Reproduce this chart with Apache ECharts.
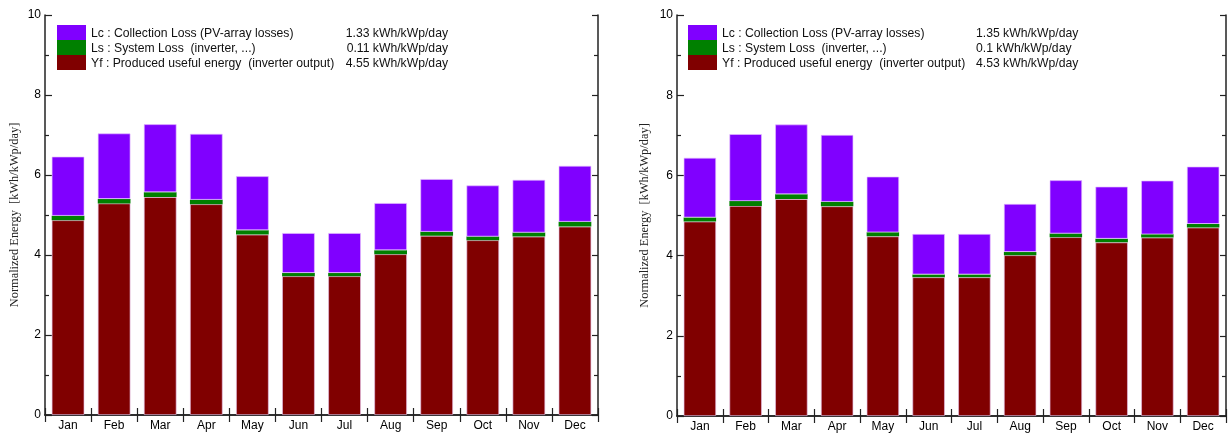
<!DOCTYPE html>
<html>
<head>
<meta charset="utf-8">
<script src="https://cdn.jsdelivr.net/npm/echarts@6/dist/echarts.min.js"></script>
<style>
html,body{margin:0;padding:0;background:#fff;}
#c{width:1229px;height:434px;}
</style>
</head>
<body>
<div id="c"></div>
<script>
// ---- data ----
var months = ['Jan','Feb','Mar','Apr','May','Jun','Jul','Aug','Sep','Oct','Nov','Dec'];
var seriesNames = [
  'Lc : Collection Loss (PV-array losses)',
  'Ls : System Loss  (inverter, ...)',
  'Yf : Produced useful energy  (inverter output)'
];
// left chart
var yfA = [4.87, 5.29, 5.45, 5.27, 4.51, 3.47, 3.47, 4.02, 4.48, 4.37, 4.46, 4.71];
var lsA = [0.11, 0.11, 0.12, 0.11, 0.11, 0.08, 0.08, 0.10, 0.10, 0.09, 0.10, 0.12];
var lcA = [1.48, 1.64, 1.70, 1.65, 1.35, 1.00, 1.00, 1.18, 1.32, 1.28, 1.32, 1.40];
var summaryA = ['1.33 kWh/kWp/day', '0.11 kWh/kWp/day', '4.55 kWh/kWp/day'];
// right chart
var yfB = [4.85, 5.24, 5.41, 5.23, 4.48, 3.46, 3.46, 4.01, 4.46, 4.33, 4.45, 4.70];
var lsB = [0.10, 0.12, 0.12, 0.11, 0.10, 0.07, 0.07, 0.08, 0.09, 0.09, 0.08, 0.09];
var lcB = [1.49, 1.67, 1.74, 1.67, 1.39, 1.01, 1.01, 1.20, 1.33, 1.30, 1.34, 1.43];
var summaryB = ['1.35 kWh/kWp/day', '0.1 kWh/kWp/day', '4.53 kWh/kWp/day'];
var yTitle = 'Normalized Energy  [kWh/kWp/day]';

var colors = {lc: '#8000ff', ls: '#008000', yf: '#800000'};
var font = 'Liberation Sans, Arial, Helvetica, sans-serif';
var axisLineStyle = {color: '#222', width: 1.5};

function xAxes(gi) {
  return [
    {type: 'category', gridIndex: gi, data: months, position: 'bottom',
     axisLine: {lineStyle: axisLineStyle},
     axisTick: {show: true, inside: true, length: 7, lineStyle: {color: '#222', width: 1.2}},
     axisLabel: {color: '#000', fontFamily: font, fontSize: 12, margin: 5},
     splitLine: {show: false}},
    {type: 'category', gridIndex: gi, data: months, position: 'top',
     axisLine: {lineStyle: axisLineStyle},
     axisTick: {show: true, inside: true, length: 7, lineStyle: {color: '#222', width: 1.2}},
     axisLabel: {show: false},
     splitLine: {show: false}}
  ];
}
function yAxes(gi, gap) {
  return [
    {type: 'value', gridIndex: gi, min: 0, max: 10, interval: 2, position: 'left',
     name: yTitle, nameLocation: 'middle', nameGap: gap,
     nameTextStyle: {fontFamily: 'Liberation Serif, Times New Roman, serif', fontSize: 12.4, color: '#222'},
     axisLine: {show: true, lineStyle: axisLineStyle},
     axisTick: {show: true, inside: true, length: 7, lineStyle: {color: '#222', width: 1.2}},
     minorTick: {show: true, splitNumber: 2, length: 4, lineStyle: {color: '#222', width: 1.2}},
     axisLabel: {color: '#000', fontFamily: font, fontSize: 12, margin: 4},
     splitLine: {show: false}},
    {type: 'value', gridIndex: gi, min: 0, max: 10, interval: 2, position: 'right',
     axisLine: {show: true, lineStyle: axisLineStyle},
     axisTick: {show: true, inside: true, length: 6, lineStyle: {color: '#222', width: 1.2}},
     minorTick: {show: true, splitNumber: 2, length: 4, lineStyle: {color: '#222', width: 1.2}},
     axisLabel: {show: false},
     splitLine: {show: false}}
  ];
}
function barSeries(xi, yi, yf, ls, lc) {
  var common = {type: 'bar', stack: 'g' + xi, xAxisIndex: xi, yAxisIndex: yi,
    barCategoryGap: '29%', emphasis: {disabled: true}};
  return [
    Object.assign({name: seriesNames[2], data: yf, itemStyle: {color: colors.yf, borderColor: 'rgba(230,190,230,0.8)', borderWidth: 0.8}}, common),
    Object.assign({name: seriesNames[1], data: ls, itemStyle: {color: colors.ls, borderWidth: 0}}, common),
    Object.assign({name: seriesNames[0], data: lc, itemStyle: {color: colors.lc, borderColor: 'rgba(230,190,255,0.8)', borderWidth: 0.8}}, common)
  ];
}
function legend(left, nameW, summary, valAlign, valW) {
  return {
    orient: 'vertical', left: left, top: 25, padding: 0, itemGap: 0,
    itemWidth: 29, itemHeight: 15, icon: 'rect',
    selectedMode: false,
    itemStyle: {borderWidth: 0},
    data: [seriesNames[0], seriesNames[1], seriesNames[2]],
    formatter: function (name) {
      var i = seriesNames.indexOf(name);
      return '{n|' + name + '}{v|' + summary[i] + '}';
    },
    textStyle: {
      fontFamily: font, fontSize: 12, color: '#111', lineHeight: 15,
      rich: {
        n: {width: nameW, fontFamily: font, fontSize: 12.2, color: '#111', padding: [2, 0, 0, 0]},
        v: {width: valW, align: valAlign, fontFamily: font, fontSize: 12.2, color: '#111', padding: [2, 0, 0, 0]}
      }
    }
  };
}

var chart = echarts.init(document.getElementById('c'), null, {renderer: 'canvas'});
chart.setOption({
  animation: false,
  backgroundColor: '#fff',
  color: [colors.yf, colors.ls, colors.lc],
  grid: [
    {left: 45, right: 631, top: 15, bottom: 19},
    {left: 677, right: 3, top: 15, bottom: 18}
  ],
  legend: [
    legend(57, 251, summaryA, 'right', 106),
    legend(688, 254, summaryB, 'left', 110)
  ],
  xAxis: xAxes(0).concat(xAxes(1)),
  yAxis: yAxes(0, 24).concat(yAxes(1, 26)),
  series: barSeries(0, 0, yfA, lsA, lcA).concat(barSeries(2, 2, yfB, lsB, lcB))
});
</script>
</body>
</html>
